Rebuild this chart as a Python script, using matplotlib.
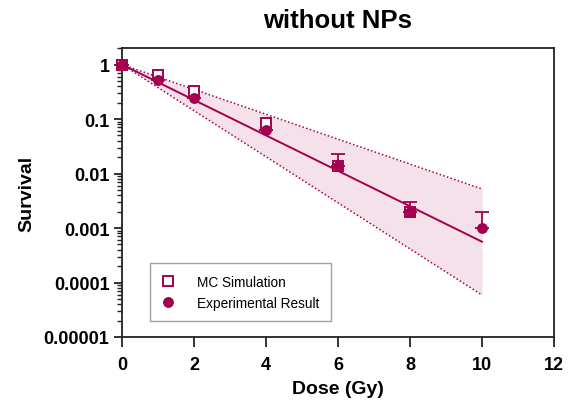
import matplotlib
matplotlib.use("Agg")
import matplotlib.pyplot as plt
from matplotlib.ticker import LogLocator, NullFormatter, FixedLocator, FixedFormatter

plt.rcParams['font.family'] = ['Liberation Sans', 'DejaVu Sans']

# data
mc_dose = [0, 1, 2, 4, 6, 8]
mc_survival = [1.0, 0.65, 0.32, 0.086, 0.0138, 0.0020]

exp_dose = [0, 1, 2, 4, 6, 8, 10]
exp_survival = [1.0, 0.52, 0.245, 0.063, 0.0138, 0.0020, 0.0010]
exp_err_upper = [0.0, 0.0, 0.0, 0.0, 0.0086, 0.0010, 0.0010]

fit_dose = [0, 10]
fit_survival = [1.0, 0.00056]
fit_upper = [1.0, 0.0052]
fit_lower = [1.0, 0.000059]

y_ticks = [1e-5, 1e-4, 1e-3, 1e-2, 1e-1, 1]
y_ticklabels = ['0.00001', '0.0001', '0.001', '0.01', '0.1', '1']
x_ticks = [0, 2, 4, 6, 8, 10, 12]

color = '#A3004F'
fill_color = '#F4E1EA'

fig = plt.figure(figsize=(5.7, 4.06), dpi=100)
ax = fig.add_axes([0.214, 0.1675, 0.758, 0.7115])

ax.fill_between(fit_dose, fit_lower, fit_upper, color=fill_color, lw=0, zorder=1)
ax.plot(fit_dose, fit_upper, ls=(0, (1, 1.5)), color=color, lw=1.1, zorder=2)
ax.plot(fit_dose, fit_lower, ls=(0, (1, 1.5)), color=color, lw=1.1, zorder=2)
ax.plot(fit_dose, fit_survival, color=color, lw=1.4, zorder=3)

ax.errorbar(exp_dose, exp_survival, yerr=[[0]*len(exp_err_upper), exp_err_upper],
            fmt='none', ecolor=color, elinewidth=1.3, capsize=5, capthick=1.3, zorder=3)
ax.plot(mc_dose, mc_survival, ls='none', marker='s', markersize=7, markerfacecolor='white',
        markeredgecolor=color, markeredgewidth=1.4, zorder=4, label='MC Simulation',
        clip_on=False)
ax.plot(exp_dose, exp_survival, ls='none', marker='o', markersize=6.8, color=color,
        zorder=5, label='Experimental Result', clip_on=False)

ax.set_yscale('log')
ax.set_xlim(0, 12)
ax.set_ylim(1e-5, 2)
ax.yaxis.set_major_locator(FixedLocator(y_ticks))
ax.yaxis.set_major_formatter(FixedFormatter(y_ticklabels))
ax.yaxis.set_minor_locator(LogLocator(base=10, subs=range(2, 10), numticks=20))
ax.yaxis.set_minor_formatter(NullFormatter())
ax.set_xticks(x_ticks)

for s in ax.spines.values():
    s.set_linewidth(1.3)
    s.set_color('#222222')
ax.tick_params(axis='both', which='major', direction='out', length=6, width=1.3,
               labelsize=13, colors='#222222', labelcolor='black', pad=3)
ax.tick_params(axis='x', which='major', length=7.5, pad=6)
ax.tick_params(axis='y', which='minor', direction='out', length=3.5, width=1.0, colors='#222222')
for lab in ax.get_xticklabels() + ax.get_yticklabels():
    lab.set_fontweight('bold')

ax.set_xlabel('Dose (Gy)', fontsize=14, fontweight='bold', labelpad=5)
ax.set_ylabel('Survival', fontsize=14, fontweight='bold', labelpad=6)
fig.text(338 / 570, 1 - 28 / 406, 'without NPs', fontsize=18.5, fontweight='bold',
         ha='center', va='baseline')

leg = ax.legend(loc='lower left', bbox_to_anchor=(0.065, 0.055), fontsize=9.8,
                frameon=True, fancybox=False, edgecolor='#888888', handletextpad=1.7,
                borderpad=0.85, labelspacing=0.5, handlelength=0.9, borderaxespad=0)
leg.get_frame().set_linewidth(1.0)

fig.savefig('out.png', dpi=100)
